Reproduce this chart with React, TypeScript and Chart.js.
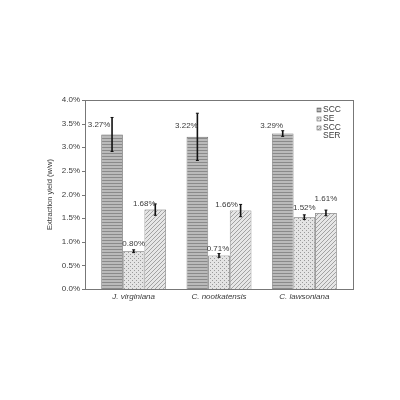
import React, { useEffect, useRef } from "react";
import { Chart, registerables } from "chart.js";

Chart.register(...registerables);

const categories = ["J. virginiana", "C. nootkatensis", "C. lawsoniana"];
const seriesNames = ["SCC", "SE", "SCC\nSER"];
const sccValues = [3.27, 3.22, 3.29];
const seValues = [0.8, 0.71, 1.52];
const serValues = [1.68, 1.66, 1.61];
const sccErr = [0.36, 0.5, 0.06];
const seErr = [0.03, 0.04, 0.05];
const serErr = [0.12, 0.13, 0.06];
const yTicks = [0, 0.5, 1, 1.5, 2, 2.5, 3, 3.5, 4];

const FRAME_PAD = 6;

function makePattern(kind: string): CanvasPattern | string {
  const c = document.createElement("canvas");
  const s = kind === "h" ? 3 : 4;
  c.width = s;
  c.height = s;
  const g = c.getContext("2d");
  if (!g) return "#aaa";
  if (kind === "h") {
    g.fillStyle = "#bababa";
    g.fillRect(0, 0, s, s);
    g.fillStyle = "#8a8a8a";
    g.fillRect(0, 0, s, 1);
  } else if (kind === "d") {
    g.fillStyle = "#e4e4e4";
    g.fillRect(0, 0, s, s);
    g.fillStyle = "#9a9a9a";
    g.fillRect(0, 0, 1, 1);
    g.fillRect(2, 2, 1, 1);
  } else {
    g.fillStyle = "#e6e6e6";
    g.fillRect(0, 0, s, s);
    g.fillStyle = "#a2a2a2";
    for (let i = 0; i < s; i++) g.fillRect(s - 1 - i, i, 1, 1);
  }
  return g.createPattern(c, "repeat") as CanvasPattern;
}

const errors = [sccErr, seErr, serErr];
const labelOffsets = [
  [[-13, -10], [-11, -11], [-11, -8]],
  [[0, -7], [-1, -7], [0, -9]],
  [[-11, -6], [-14, -6], [0, -14]],
];

const overlayPlugin = {
  id: "overlay",
  afterDatasetsDraw(chart: any) {
    const ctx = chart.ctx;
    const y = chart.scales.y;
    const ca = chart.chartArea;
    const fl = ca.left - FRAME_PAD;
    const fr = ca.right + FRAME_PAD;
    ctx.save();
    chart.data.datasets.forEach((ds: any, di: number) => {
      const meta = chart.getDatasetMeta(di);
      meta.data.forEach((bar: any, i: number) => {
        const v = ds.data[i];
        const e = errors[di][i];
        const yTop = y.getPixelForValue(v + e);
        const yBot = y.getPixelForValue(v - e);
        ctx.strokeStyle = "#111";
        ctx.lineWidth = 1.6;
        ctx.beginPath();
        ctx.moveTo(bar.x, yTop);
        ctx.lineTo(bar.x, yBot);
        ctx.stroke();
        ctx.lineWidth = 1;
        ctx.beginPath();
        ctx.moveTo(bar.x - 1.5, yTop);
        ctx.lineTo(bar.x + 1.5, yTop);
        ctx.moveTo(bar.x - 1.5, yBot);
        ctx.lineTo(bar.x + 1.5, yBot);
        ctx.stroke();
        const off = labelOffsets[di][i];
        ctx.fillStyle = "#3a3a3a";
        ctx.font = "8px 'Liberation Sans', Arial, sans-serif";
        ctx.textAlign = "center";
        ctx.textBaseline = "middle";
        const py = y.getPixelForValue(v);
        ctx.fillText(v.toFixed(2) + "%", bar.x + off[0], py + off[1]);
      });
    });
    // legend
    const lx = fr - 36;
    let ly = ca.top + 10;
    ctx.font = "8.5px 'Liberation Sans', Arial, sans-serif";
    ctx.textAlign = "left";
    ctx.textBaseline = "middle";
    chart.data.datasets.forEach((ds: any, di: number) => {
      ctx.fillStyle = ds.backgroundColor;
      ctx.fillRect(lx, ly - 2, 4, 4);
      ctx.strokeStyle = "#666";
      ctx.lineWidth = 0.6;
      ctx.strokeRect(lx, ly - 2, 4, 4);
      ctx.fillStyle = "#3a3a3a";
      const lines = seriesNames[di].split("\n");
      lines.forEach((ln: string, k: number) => {
        ctx.fillText(ln, lx + 6, ly + k * 7.5);
      });
      ly += 9 + (lines.length - 1) * 7.5;
    });
    // frame and y tick marks
    ctx.strokeStyle = "#777";
    ctx.lineWidth = 1;
    ctx.strokeRect(Math.round(fl) + 0.5, Math.round(ca.top) + 0.5, Math.round(fr - fl), Math.round(ca.bottom - ca.top));
    ctx.beginPath();
    yTicks.forEach((t) => {
      const py = Math.round(y.getPixelForValue(t)) + 0.5;
      ctx.moveTo(Math.round(fl) - 3, py);
      ctx.lineTo(Math.round(fl) + 0.5, py);
    });
    ctx.stroke();
    ctx.restore();
  },
};

export default function App() {
  const ref = useRef<HTMLCanvasElement | null>(null);
  useEffect(() => {
    if (!ref.current) return;
    const pats = [makePattern("h"), makePattern("d"), makePattern("x")];
    const vals = [sccValues, seValues, serValues];
    const chart = new Chart(ref.current, {
      type: "bar",
      data: {
        labels: categories,
        datasets: vals.map((v, i) => ({
          label: seriesNames[i],
          data: v,
          backgroundColor: pats[i] as any,
          borderColor: "#6e6e6e",
          borderWidth: 0.8,
          barPercentage: 1,
          categoryPercentage: 0.76,
        })),
      },
      options: {
        animation: false,
        responsive: false,
        devicePixelRatio: 1,
        layout: { padding: { left: 43, top: 100, right: 53, bottom: 91 } },
        plugins: { legend: { display: false }, tooltip: { enabled: false } },
        scales: {
          x: {
            grid: { display: false, drawTicks: false },
            border: { display: false },
            ticks: {
              color: "#3a3a3a",
              font: { family: "'Liberation Sans', Arial", size: 8, style: "italic" },
              padding: 3,
            },
            afterFit: (s: any) => {
              s.height = 20;
            },
          },
          y: {
            min: 0,
            max: 4,
            grid: { display: false, drawTicks: false },
            border: { display: false },
            afterBuildTicks: (s: any) => {
              s.ticks = yTicks.map((v) => ({ value: v }));
            },
            ticks: {
              color: "#3a3a3a",
              font: { family: "'Liberation Sans', Arial", size: 8 },
              callback: (v: any) => Number(v).toFixed(1) + "%",
              padding: 11,
            },
            title: {
              display: true,
              text: "Extraction yield (w/w)",
              color: "#3a3a3a",
              font: { family: "'Liberation Sans', Arial", size: 7.5 },
              padding: 2,
            },
            afterFit: (s: any) => {
              s.width = 48;
            },
          },
        },
      },
      plugins: [overlayPlugin],
    });
    return () => chart.destroy();
  }, []);
  return (
    <div style={{ position: "fixed", left: 0, top: 0, width: 400, height: 400, background: "#fff" }}>
      <canvas ref={ref} width={400} height={400} style={{ width: 400, height: 400 }} />
    </div>
  );
}
